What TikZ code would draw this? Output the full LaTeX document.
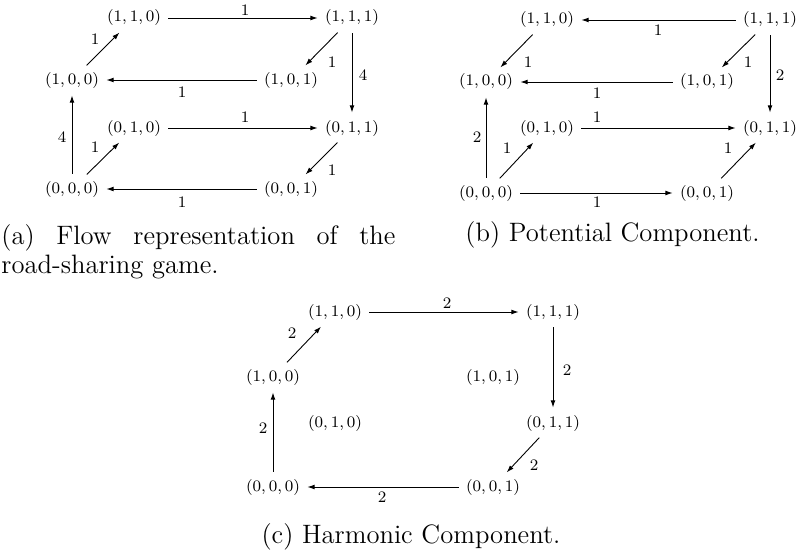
\documentclass[tikz,border=0pt]{standalone}
\usetikzlibrary{arrows.meta}
\begin{document}
\begin{tikzpicture}[x=0.5pt, y=-0.5pt, line width=0.45pt,
  vtx/.style={inner sep=2pt, font=\fontsize{8.4}{10}\selectfont},
  wt/.style={inner sep=0pt, font=\fontsize{8.4}{10}\selectfont},
  flow/.style={-{Latex[length=3.6pt, width=2.4pt]}, shorten >=1.5pt, shorten <=1.5pt},
  capt/.style={inner sep=0pt, font=\fontsize{13.3}{14.5}\selectfont}]
  \useasboundingbox (0,0) rectangle (796,556);
  % (a) flow of the game
  \node[vtx] (a110) at (134,18) {$(1,1,0)$}; \node[vtx] (a111) at (352,18) {$(1,1,1)$};
  \node[vtx] (a100) at (72,80) {$(1,0,0)$}; \node[vtx] (a101) at (291,80) {$(1,0,1)$};
  \node[vtx] (a010) at (134,128) {$(0,1,0)$}; \node[vtx] (a011) at (352,128) {$(0,1,1)$};
  \node[vtx] (a000) at (72,189) {$(0,0,0)$}; \node[vtx] (a001) at (291,189) {$(0,0,1)$};
  \draw[flow] (a110) -- (a111) node[wt] at (245,10) {$1$};
  \draw[flow] (a111) -- (a101) node[wt] at (332,62) {$1$};
  \draw[flow] (a111) -- (a011) node[wt] at (363,75) {$4$};
  \draw[flow] (a101) -- (a100) node[wt] at (182,92) {$1$};
  \draw[flow] (a100) -- (a110) node[wt] at (95,39) {$1$};
  \draw[flow] (a000) -- (a100) node[wt] at (62,137) {$4$};
  \draw[flow] (a000) -- (a010) node[wt] at (95,147) {$1$};
  \draw[flow] (a010) -- (a011) node[wt] at (245,117) {$1$};
  \draw[flow] (a011) -- (a001) node[wt] at (332,170) {$1$};
  \draw[flow] (a001) -- (a000) node[wt] at (182,202) {$1$};
  \node[capt, anchor=north west, align=left] (capa) at (1,224)
    {\makebox[197pt][s]{(a) Flow representation of the}\\road-sharing game.};
  % (b) potential part
  \node[vtx] (b110) at (547,20) {$(1,1,0)$}; \node[vtx] (b111) at (770,20) {$(1,1,1)$};
  \node[vtx] (b100) at (486,82) {$(1,0,0)$}; \node[vtx] (b101) at (707,82) {$(1,0,1)$};
  \node[vtx] (b010) at (547,128) {$(0,1,0)$}; \node[vtx] (b011) at (770,128) {$(0,1,1)$};
  \node[vtx] (b000) at (486,193) {$(0,0,0)$}; \node[vtx] (b001) at (707,193) {$(0,0,1)$};
  \draw[flow] (b111) -- (b110) node[wt] at (658,30) {$1$};
  \draw[flow] (b110) -- (b100) node[wt] at (528,62) {$1$};
  \draw[flow] (b111) -- (b101) node[wt] at (748,62) {$1$};
  \draw[flow] (b111) -- (b011) node[wt] at (780,75) {$2$};
  \draw[flow] (b101) -- (b100) node[wt] at (597,93) {$1$};
  \draw[flow] (b000) -- (b100) node[wt] at (477,137) {$2$};
  \draw[flow] (b000) -- (b010) node[wt] at (507,148) {$1$};
  \draw[flow] (b010) -- (b011) node[wt] at (597,117) {$1$};
  \draw[flow] (b001) -- (b011) node[wt] at (728,148) {$1$};
  \draw[flow] (b000) -- (b001) node[wt] at (597,202) {$1$};
  \node[capt, anchor=west] (capb) at (465,235) {(b) Potential Component.};
  % (c) harmonic part
  \node[vtx] (c110) at (335,312) {$(1,1,0)$}; \node[vtx] (c111) at (553,312) {$(1,1,1)$};
  \node[vtx] (c100) at (273,377) {$(1,0,0)$}; \node[vtx] (c101) at (493,377) {$(1,0,1)$};
  \node[vtx] (c010) at (335,423) {$(0,1,0)$}; \node[vtx] (c011) at (553,423) {$(0,1,1)$};
  \node[vtx] (c000) at (273,487) {$(0,0,0)$}; \node[vtx] (c001) at (493,487) {$(0,0,1)$};
  \draw[flow] (c110) -- (c111) node[wt] at (447,303) {$2$};
  \draw[flow] (c100) -- (c110) node[wt] at (292,333) {$2$};
  \draw[flow] (c111) -- (c011) node[wt] at (567,370) {$2$};
  \draw[flow] (c000) -- (c100) node[wt] at (263,428) {$2$};
  \draw[flow] (c011) -- (c001) node[wt] at (534,465) {$2$};
  \draw[flow] (c001) -- (c000) node[wt] at (382,497) {$2$};
  \node[capt] (capc) at (411,537) {(c) Harmonic Component.};
\end{tikzpicture}
\end{document}
